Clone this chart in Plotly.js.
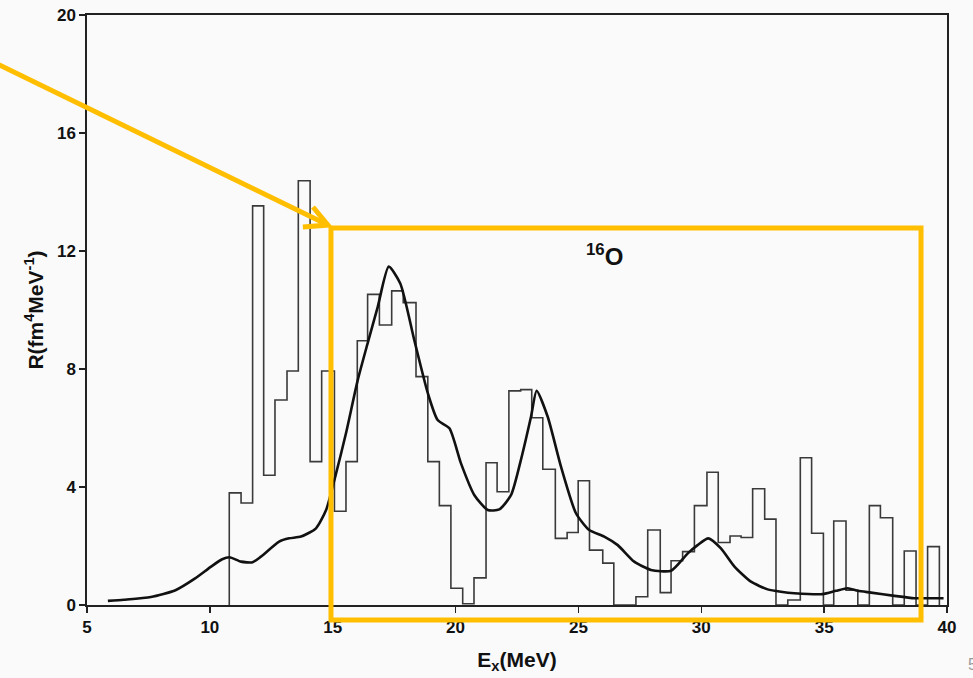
<!DOCTYPE html>
<html>
<head>
<meta charset="utf-8">
<script src="https://cdn.plot.ly/plotly-3.0.1.min.js"></script>
<style>html,body{margin:0;padding:0;background:#fafafa;}#chart{width:973px;height:678px;}</style>
</head>
<body>
<div id="chart"></div>
<script>
// Histogram (experimental strength) bin edges and values
const binEdges = [10.79, 11.27, 11.74, 12.19, 12.65, 13.14, 13.6, 14.08, 14.55, 15.07, 15.54, 16.0,
  16.42, 16.9, 17.4, 17.87, 18.39, 18.87, 19.34, 19.81, 20.29, 20.75, 21.24, 21.69, 22.17, 22.65,
  23.1, 23.55, 24.06, 24.54, 24.99, 25.45, 25.99, 26.44, 26.9, 27.34, 27.82, 28.33, 28.77, 29.24,
  29.72, 30.23, 30.69, 31.17, 31.62, 32.09, 32.58, 33.04, 33.52, 34.03, 34.49, 34.97, 35.39, 35.89,
  36.37, 36.84, 37.29, 37.79, 38.26, 38.74, 39.21, 39.69];
const binValues = [3.8, 3.46, 13.53, 4.4, 6.95, 7.93, 14.38, 4.86, 7.93, 3.18, 4.86,
  8.96, 10.53, 9.49, 10.65, 10.25, 7.74, 4.86, 3.37, 0.57, 0.04, 0.92, 4.82, 3.84, 7.26,
  7.3, 6.35, 4.6, 2.26, 2.46, 4.21, 1.86, 1.42, 0, 0, 0.28, 2.54, 0.42, 1.5, 1.81,
  3.37, 4.5, 2.12, 2.34, 2.29, 3.94, 2.91, 0, 0.17, 4.99, 2.43, 0, 2.85, 0.5,
  0, 3.37, 2.96, 0, 1.83, 0, 1.98];

// Calculated response curve
const curveX = [5.85, 6.5, 7.6, 8.6, 9.4, 10.05, 10.5, 10.8, 11.27, 11.74, 12.08, 12.82, 13.23, 13.71,
  14.32, 14.73, 15.07, 15.54, 16.02, 16.42, 16.83, 17.28, 17.75, 18.32, 18.87, 19.27, 19.75, 20.22,
  20.76, 21.31, 21.78, 22.26, 22.66, 23.07, 23.3, 23.75, 24.29, 24.9, 25.44, 26.05, 26.6, 27.27,
  27.95, 28.77, 29.45, 29.85, 30.29, 30.8, 31.35, 32.02, 32.7, 33.24, 33.79, 34.94, 35.48, 35.96,
  36.37, 36.91, 37.86, 38.67, 39.21, 39.86];
const curveY = [0.14, 0.18, 0.27, 0.5, 0.9, 1.3, 1.55, 1.62, 1.47, 1.45, 1.64, 2.15, 2.26, 2.32,
  2.6, 3.22, 4.24, 5.82, 7.63, 8.87, 10.1, 11.47, 10.9, 8.98, 7.18, 6.27, 5.99, 4.8,
  3.73, 3.22, 3.24, 3.73, 4.92, 6.38, 7.26, 6.38, 4.69, 3.11, 2.54, 2.32, 2.03, 1.47,
  1.19, 1.16, 1.75, 2.03, 2.26, 1.92, 1.3, 0.79, 0.53, 0.45, 0.4, 0.37, 0.48, 0.57,
  0.48, 0.42, 0.31, 0.23, 0.23, 0.23];

const xTicks = [5, 10, 15, 20, 25, 30, 35, 40];
const yTicks = [0, 4, 8, 12, 16, 20];

// Build step outline from bins
const histX = [binEdges[0]];
const histY = [0];
for (let i = 0; i < binValues.length; i++) {
  histX.push(binEdges[i]);
  histY.push(binValues[i]);
}
histX.push(binEdges[binEdges.length - 1]);
histY.push(binValues[binValues.length - 1]);
histX.push(binEdges[binEdges.length - 1]);
histY.push(0);

const ORANGE = '#FFBE00';
const FONT = 'Liberation Sans, Arial, sans-serif';

const traces = [
  {x: histX, y: histY, type: 'scatter', mode: 'lines', line: {shape: 'hv', color: '#3a3a3a', width: 1.6}, hoverinfo: 'skip'},
  {x: curveX, y: curveY, type: 'scatter', mode: 'lines', line: {color: '#111', width: 2.6, shape: 'spline', smoothing: 0.6}}
];

const layout = {
  width: 973, height: 678,
  margin: {l: 87, r: 26, t: 15, b: 73},
  paper_bgcolor: '#fafafa', plot_bgcolor: '#fafafa',
  showlegend: false,
  font: {family: FONT, color: '#111'},
  xaxis: {
    range: [5, 40], tickvals: xTicks, ticktext: xTicks.map(v => '<b>' + v + '</b>'),
    ticks: 'outside', ticklen: 6, tickwidth: 1.3, tickcolor: '#222',
    showline: true, linecolor: '#222', linewidth: 1.6, mirror: true,
    showgrid: false, zeroline: false,
    tickfont: {family: FONT, size: 17, color: '#111'},
    title: {text: '<b>E<sub>x</sub>(MeV)</b>', font: {family: FONT, size: 21, color: '#111'}, standoff: 16}
  },
  yaxis: {
    range: [0, 20], tickvals: yTicks, ticktext: yTicks.map(v => '<b>' + v + '</b>'),
    ticks: 'outside', ticklen: 6, tickwidth: 1.3, tickcolor: '#222',
    showline: true, linecolor: '#222', linewidth: 1.6, mirror: true,
    showgrid: false, zeroline: false,
    tickfont: {family: FONT, size: 17, color: '#111'},
    title: {text: '<b>R(fm<sup>4</sup>MeV<sup>-1</sup>)</b>', font: {family: FONT, size: 21, color: '#111'}, standoff: 8}
  },
  annotations: [
    {x: 26.05, y: 11.85, xref: 'x', yref: 'y', text: '<b><sup>16</sup>O</b>', showarrow: false,
     font: {family: FONT, size: 24, color: '#111'}},
    {x: 1.022, y: -0.10, xref: 'paper', yref: 'paper', xanchor: 'left', yanchor: 'middle', text: '5',
     showarrow: false, font: {family: FONT, size: 16, color: '#999'}}
  ],
  shapes: [
    {type: 'rect', xref: 'paper', yref: 'paper', x0: 0.2837, x1: 0.9698, y0: -0.0254, y1: 0.639,
     line: {color: ORANGE, width: 5}, fillcolor: 'rgba(0,0,0,0)'},
    {type: 'path', xref: 'paper', yref: 'paper',
     path: 'M -0.107 0.919 L 0.2802 0.644',
     line: {color: ORANGE, width: 5}},
    {type: 'path', xref: 'paper', yref: 'paper',
     path: 'M 0.2628 0.6746 L 0.2802 0.644 L 0.251 0.6407',
     line: {color: ORANGE, width: 5}}
  ]
};

Plotly.newPlot('chart', traces, layout, {displayModeBar: false, staticPlot: true});
</script>
</body>
</html>
